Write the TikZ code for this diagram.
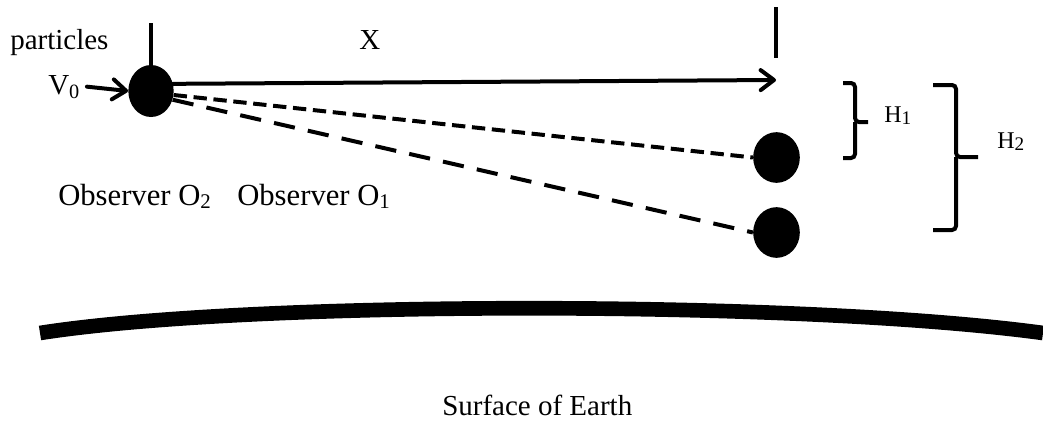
\documentclass[tikz,border=0pt]{standalone}
\usepackage{fontspec}
\setmainfont{Liberation Serif}
\usepackage{graphicx}
\usepackage{tikz}
\usetikzlibrary{arrows.meta, shapes.geometric}
\newcommand{\obsfont}{\fontsize{23}{27}\selectfont}
\newcommand{\hfont}{\fontsize{18}{22}\selectfont}
\newcommand{\lowdigit}[2]{\raisebox{-0.1em}{\scalebox{#1}{#2}}}

\begin{document}
\begin{tikzpicture}[x=0.75pt, y=-0.75pt,
      every node/.style={font=\fontsize{21.75}{26}\selectfont, inner sep=0pt, anchor=base west},
      ball/.style={ellipse, fill=black, anchor=center, minimum width=34pt, minimum height=39pt},
      ar/.style={-{Straight Barb[length=10pt, width=15pt, round]}, line width=3pt, line cap=round},
      dsh/.style={line width=3pt},
      brk/.style={line width=3pt, rounded corners=3pt},
      tk/.style={line width=3.5pt}]
    \useasboundingbox (0,0) rectangle (1043,421);
    \node[ball] (p) at (151,91) {};
    \node[ball, minimum width=35pt, minimum height=38pt] (b1) at (776.5,157.5) {};
    \node[ball, minimum width=35pt, minimum height=38pt] (b2) at (776.5,232.5) {};
    \node (part) at (10,50) {particles};
    \node (v0) at (48,94) {V\textsubscript{0}};
    \node (xl) at (359,50) {X};
    \node[font=\obsfont] (o2) at (58,205) {Observer O\lowdigit{0.68}{2}};
    \node[font=\obsfont] (o1) at (237,205) {Observer O\lowdigit{0.68}{1}};
    \node[font=\hfont] (h1) at (884,122) {H\lowdigit{0.8}{1}};
    \node[font=\hfont] (h2) at (997,148) {H\lowdigit{0.8}{2}};
    \node (earth) at (442,415) {Surface of Earth};
    \coordinate (xend) at (776,80);
    \draw[ar] ([xshift=5pt]v0.east) -- (p.west);
    \draw[ar] (p.18) -- (xend);
    \draw[dsh, dash pattern=on 10pt off 5pt] (p.-10) -- (b1.west);
    \draw[dsh, dash pattern=on 16pt off 10pt] (p.-22) -- (b2.west);
    \draw[tk] (p.north) -- (151,23);
    \draw[tk] (776,7) -- (776,58);
    \draw[brk] (843,83) -| (855,122) -- (868,122) (855,122) |- (843,158);
    \draw[brk] (933,85) -| (956,157) -- (978,157) (956,157) |- (933,230);
    \draw[line width=11pt] (40,333) .. controls (250,300) and (800,300) .. (1043,333);
  \end{tikzpicture}
\end{document}
